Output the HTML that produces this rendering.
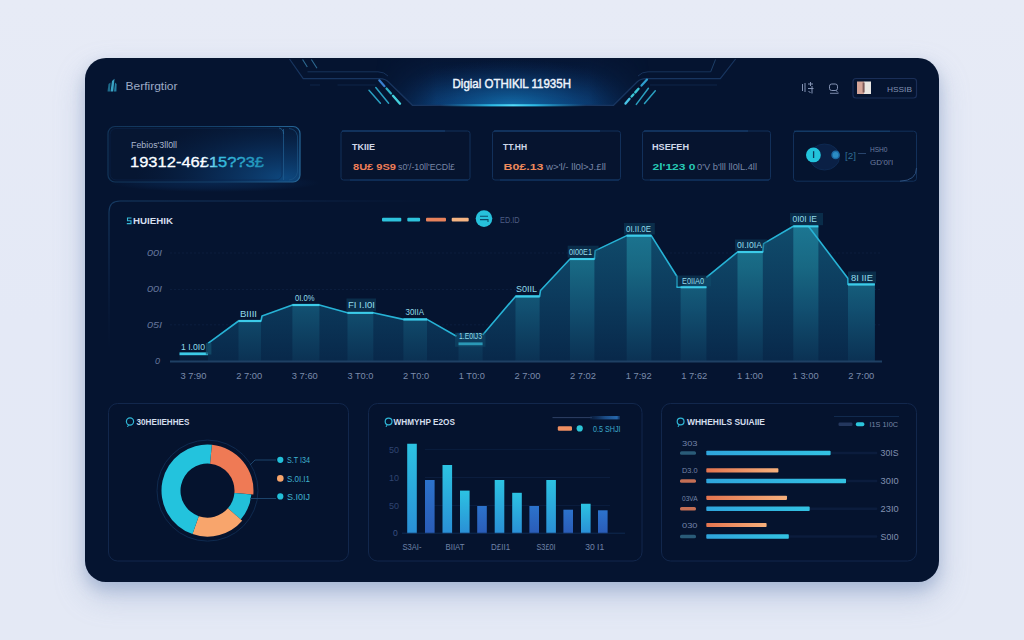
<!DOCTYPE html>
<html lang="en">
<head>
<meta charset="utf-8">
<title>Digital Dashboard</title>
<style>
  html, body { margin: 0; padding: 0; }
  body {
    width: 1024px; height: 640px; overflow: hidden; position: relative;
    font-family: "Liberation Sans", sans-serif;
    background: #e4e9f6;
  }
  #bg {
    position: absolute; left: 0; top: 0; width: 1024px; height: 640px;
    background: linear-gradient(180deg, #e7ebf6 0%, #e4e9f6 50%, #e4e9f5 100%);
  }
  #card {
    position: absolute; left: 85px; top: 58px; width: 854px; height: 524px;
    border-radius: 21px;
    background: #051430;
    box-shadow: 0 7px 14px rgba(130,152,190,0.4), 0 14px 30px rgba(130,152,195,0.4);
    overflow: hidden;
  }
  svg#art { position: absolute; left: 0; top: 0; }
  svg text { font-family: "Liberation Sans", sans-serif; }
</style>
</head>
<body>
<div id="bg"></div>
<div id="card"></div>
<svg id="art" width="1024" height="640" viewBox="0 0 1024 640">
<defs>
  <linearGradient id="hdrFill" x1="0" y1="58" x2="0" y2="106" gradientUnits="userSpaceOnUse">
    <stop offset="0" stop-color="#08224c" stop-opacity="0.15"/>
    <stop offset="1" stop-color="#0b3a72" stop-opacity="0.75"/>
  </linearGradient>
  <radialGradient id="hdrGlow" cx="512" cy="106" r="130" gradientUnits="userSpaceOnUse" gradientTransform="translate(0 106) scale(1 0.36) translate(0 -106)">
    <stop offset="0" stop-color="#1787c8" stop-opacity="0.7"/>
    <stop offset="0.45" stop-color="#1062a6" stop-opacity="0.42"/>
    <stop offset="1" stop-color="#0a2f66" stop-opacity="0"/>
  </radialGradient>
  <linearGradient id="hdrLine" x1="0" y1="0" x2="1" y2="0">
    <stop offset="0" stop-color="#1aa5e0" stop-opacity="0"/>
    <stop offset="0.35" stop-color="#2fc6f2" stop-opacity="0.9"/>
    <stop offset="0.5" stop-color="#52dcfa" stop-opacity="1"/>
    <stop offset="0.65" stop-color="#2fc6f2" stop-opacity="0.9"/>
    <stop offset="1" stop-color="#1aa5e0" stop-opacity="0"/>
  </linearGradient>
  <linearGradient id="hdrMaskG" x1="376" y1="0" x2="649" y2="0" gradientUnits="userSpaceOnUse">
    <stop offset="0" stop-color="#fff" stop-opacity="0"/>
    <stop offset="0.22" stop-color="#fff" stop-opacity="1"/>
    <stop offset="0.78" stop-color="#fff" stop-opacity="1"/>
    <stop offset="1" stop-color="#fff" stop-opacity="0"/>
  </linearGradient>
  <mask id="hdrMask" maskUnits="userSpaceOnUse" x="370" y="50" width="290" height="60"><rect x="370" y="50" width="290" height="60" fill="url(#hdrMaskG)"/></mask>

  <linearGradient id="c1fill" x1="0" y1="0" x2="1" y2="0">
    <stop offset="0" stop-color="#061530"/>
    <stop offset="0.4" stop-color="#071a3b"/>
    <stop offset="0.8" stop-color="#0a3562"/>
    <stop offset="1" stop-color="#0c3d6e"/>
  </linearGradient>
  <linearGradient id="c1stroke" x1="0" y1="0" x2="1" y2="0">
    <stop offset="0" stop-color="#123459"/>
    <stop offset="0.6" stop-color="#15426c"/>
    <stop offset="1" stop-color="#256596"/>
  </linearGradient>
  <linearGradient id="numGrad" x1="130" y1="0" x2="265" y2="0" gradientUnits="userSpaceOnUse">
    <stop offset="0" stop-color="#ffffff"/>
    <stop offset="0.55" stop-color="#ffffff"/>
    <stop offset="0.64" stop-color="#39c2e2"/>
    <stop offset="1" stop-color="#1f8fb5"/>
  </linearGradient>

  <linearGradient id="areaFill" x1="0" y1="226" x2="0" y2="362" gradientUnits="userSpaceOnUse">
    <stop offset="0" stop-color="#104c6c"/>
    <stop offset="0.5" stop-color="#0c3b5d"/>
    <stop offset="1" stop-color="#08284a"/>
  </linearGradient>
  <linearGradient id="barFill" x1="0" y1="226" x2="0" y2="362" gradientUnits="userSpaceOnUse">
    <stop offset="0" stop-color="#1c7692"/>
    <stop offset="0.3" stop-color="#186883"/>
    <stop offset="0.6" stop-color="#125172" stop-opacity="0.95"/>
    <stop offset="1" stop-color="#0b3254" stop-opacity="0.9"/>
  </linearGradient>

  <linearGradient id="vbC" x1="0" y1="0" x2="0" y2="1">
    <stop offset="0" stop-color="#2cc3e2"/>
    <stop offset="1" stop-color="#2a8fd6"/>
  </linearGradient>
  <linearGradient id="vbB" x1="0" y1="0" x2="0" y2="1">
    <stop offset="0" stop-color="#2c73cc"/>
    <stop offset="1" stop-color="#2a5cb8"/>
  </linearGradient>
  <linearGradient id="hbO" x1="0" y1="0" x2="1" y2="0">
    <stop offset="0" stop-color="#e4744f"/>
    <stop offset="1" stop-color="#f6b07c"/>
  </linearGradient>
  <linearGradient id="hbC" x1="0" y1="0" x2="1" y2="0">
    <stop offset="0" stop-color="#2fa5dd"/>
    <stop offset="1" stop-color="#33c2e2"/>
  </linearGradient>
  <linearGradient id="panelStrokeH" x1="120" y1="0" x2="440" y2="0" gradientUnits="userSpaceOnUse">
    <stop offset="0" stop-color="#163a62"/>
    <stop offset="0.5" stop-color="#10294f"/>
    <stop offset="1" stop-color="#0a1f42" stop-opacity="0"/>
  </linearGradient>
  <linearGradient id="panelStrokeV" x1="0" y1="212" x2="0" y2="350" gradientUnits="userSpaceOnUse">
    <stop offset="0" stop-color="#163a62"/>
    <stop offset="0.4" stop-color="#0f284d"/>
    <stop offset="1" stop-color="#0a1f42" stop-opacity="0"/>
  </linearGradient>
  <linearGradient id="legBar" x1="0" y1="0" x2="1" y2="0">
    <stop offset="0" stop-color="#14335f" stop-opacity="0.3"/>
    <stop offset="0.5" stop-color="#1b4c86"/>
    <stop offset="0.9" stop-color="#2768ac"/>
    <stop offset="1" stop-color="#1b4c86" stop-opacity="0.4"/>
  </linearGradient>
  <radialGradient id="c1glow" cx="285" cy="178" r="150" gradientUnits="userSpaceOnUse" gradientTransform="translate(285 178) scale(1 0.42) translate(-285 -178)">
    <stop offset="0" stop-color="#0e4a82" stop-opacity="0.95"/>
    <stop offset="0.45" stop-color="#0b386a" stop-opacity="0.6"/>
    <stop offset="1" stop-color="#08244c" stop-opacity="0"/>
  </radialGradient>
  <radialGradient id="c1under" cx="0.5" cy="0.5" r="0.5">
    <stop offset="0" stop-color="#0b3263" stop-opacity="0.55"/>
    <stop offset="0.6" stop-color="#0b3263" stop-opacity="0.3"/>
    <stop offset="1" stop-color="#0b3263" stop-opacity="0"/>
  </radialGradient>
</defs>

<!-- HEADER -->
<g id="header">
  <g mask="url(#hdrMask)">
  <path d="M376 58 L376 72 L412 105.5 L614 105.5 L649 72 L649 58 Z" fill="url(#hdrFill)"/>
  <path d="M376 58 L376 72 L412 105.5 L614 105.5 L649 72 L649 58 Z" fill="url(#hdrGlow)"/>
  </g>
  <path d="M289.5 59 L303.2 78.6 H380 Q385 78.6 388.5 82 L412.5 105.3 H613.5 L637 82 Q640.5 78.6 646 78.6 H720.3 L735.6 59" fill="none" stroke="#18355f" stroke-width="1.2"/>
  <path d="M307.5 71.8 H378 Q384 71.8 388 76" fill="none" stroke="#17325b" stroke-width="1"/>
  <path d="M710.7 71.8 H648 Q642 71.8 638 76" fill="none" stroke="#17325b" stroke-width="1"/>
  <path d="M710.7 71.8 L715.5 59.5" fill="none" stroke="#1d3f68" stroke-width="1"/>
  <path d="M337.5 85 H375.5 M310 85 H320" stroke="#0f2548" stroke-width="1"/>
  <path d="M650 85 H717" stroke="#0f2548" stroke-width="1"/>
  <path d="M302.6 59.5 L307.3 67 M311.4 59.5 L317 68.2" stroke="#2d6a92" stroke-width="1.1"/>
  <rect x="440" y="104.2" width="146" height="2.2" fill="url(#hdrLine)"/>
  <g stroke-linecap="round" fill="none">
    <path d="M369 90.3 L380.4 103.2" stroke="#2a9fc0" stroke-width="1.5"/>
    <path d="M375.8 87.6 L388.6 103.2" stroke="#2a9fc0" stroke-width="1.5"/>
    <path d="M379.3 80.3 L384.5 86.2" stroke="#3a7fd0" stroke-width="2.2"/>
    <path d="M386.5 88.5 L391 93.5" stroke="#2fb0c8" stroke-width="2.2"/>
    <path d="M393 95.8 L400 103.7" stroke="#45d1de" stroke-width="2.4"/>
    <path d="M655.3 90.7 L644.5 103.4" stroke="#2a9fc0" stroke-width="1.5"/>
    <path d="M648.4 88.3 L636.3 104.4" stroke="#2a9fc0" stroke-width="1.5"/>
    <path d="M647 79.6 L641.5 85.6" stroke="#2f9fcf" stroke-width="2.2"/>
    <path d="M638.5 88.8 L635.3 92.4" stroke="#3cc6d6" stroke-width="2.4"/>
    <path d="M633.4 94.5 L631.6 96.5" stroke="#3cc6d6" stroke-width="2.4"/>
    <path d="M629.5 98.8 L625.5 103.6" stroke="#49c4e6" stroke-width="2.4"/>
  </g>
  <text x="452.5" y="88" font-size="12.4" fill="#eef4fd" stroke="#eef4fd" stroke-width="0.45" textLength="118.5" lengthAdjust="spacingAndGlyphs">Digial OTHIKlL 11935H</text>
</g>

<!-- HEADER LEFT LOGO -->
<g id="logo">
  <path d="M107.5 91.5 L108.5 84 L110.5 82.5 L110 91.5 Z" fill="#1d6a8a"/>
  <path d="M110.5 91.5 L112 81 L114.5 78.8 L113.2 91.5 Z" fill="#3aa3c4"/>
  <path d="M114 91.5 L115 82.5 L116.6 84 L116.4 91.5 Z" fill="#247fa3"/>
  <text x="125.5" y="90" font-size="10.8" fill="#9dabc6" textLength="52" lengthAdjust="spacingAndGlyphs">Berfirgtior</text>
</g>

<!-- HEADER RIGHT -->
<g id="hdr-right">
  <g stroke="#8594b5" stroke-width="1" fill="none">
    <path d="M802.5 84 V91 M805 83 V92 M808 84 H813 M810.5 82 V86 M808 88.5 H813.5 M812 86 V93.5 M808.5 91 L810.5 93"/>
    <rect x="829.5" y="84" width="8" height="6.5" rx="2.2"/>
    <path d="M835.5 90 L838 92.5 M830 93.3 H838.5" stroke-width="0.9"/>
  </g>
  <rect x="853" y="78.5" width="63.5" height="19.5" rx="3" fill="none" stroke="#1a2e57" stroke-width="1.2"/>
  <rect x="857" y="81.5" width="7" height="12.5" fill="#d4a498"/>
  <rect x="864" y="81.5" width="7" height="12.5" fill="#e9e6e2"/>
  <rect x="862.6" y="82.5" width="2" height="10" fill="#7d5a58"/>
  <text x="887" y="91.5" font-size="8" fill="#8291b2" textLength="25" lengthAdjust="spacingAndGlyphs">HSSIB</text>
</g>

<!-- STAT CARDS -->
<g id="stats">
  <ellipse cx="215" cy="183" rx="105" ry="9" fill="url(#c1under)"/>
  <rect x="108" y="126.5" width="192" height="55.5" rx="7" fill="#061632"/>
  <rect x="108" y="126.5" width="192" height="55.5" rx="7" fill="url(#c1glow)"/>
  <rect x="108" y="126.5" width="192" height="55.5" rx="7" fill="none" stroke="url(#c1stroke)" stroke-width="1.2"/>
  <path d="M283.5 129 V180" stroke="#1f5a8c" stroke-width="1" opacity="0.8"/>
  <path d="M279 128 Q283.5 129 283.5 134" fill="none" stroke="#2a6a9a" stroke-width="0.9" opacity="0.8"/>
  <path d="M289 128.5 Q296 129 297.5 136 V172 Q296.5 179 289 180" fill="none" stroke="#1d5686" stroke-width="0.9" opacity="0.7"/>
  <rect x="110" y="128.5" width="172" height="51.5" rx="6" fill="none" stroke="#0d2950" stroke-width="0.8" opacity="0.6"/>
  <text x="131" y="148" font-size="8.5" fill="#aab6cf" textLength="46" lengthAdjust="spacingAndGlyphs">Febios'3ll0ll</text>
  <text x="130" y="167" font-size="15.5" fill="url(#numGrad)" stroke="url(#numGrad)" stroke-width="0.35" textLength="134" lengthAdjust="spacingAndGlyphs">19312-46&#xA3;15??3&#xA3;</text>

  <rect x="341" y="131" width="129" height="49" rx="2.5" fill="#06142f" stroke="#12305a" stroke-width="1"/>
  <text x="352" y="149.5" font-size="8.8" font-weight="bold" fill="#d0d9ea" textLength="23" lengthAdjust="spacingAndGlyphs">TKIIE</text>
  <text x="353" y="170" font-size="9.5" font-weight="bold" fill="#ee7e58" textLength="43" lengthAdjust="spacingAndGlyphs">8U&#xA3; 9S9</text>
  <text x="398" y="170" font-size="9" fill="#7786a6" textLength="57" lengthAdjust="spacingAndGlyphs">s0'/-10ll'ECDl&#xA3;</text>

  <rect x="492.5" y="131" width="128" height="49" rx="2.5" fill="#06142f" stroke="#12305a" stroke-width="1"/>
  <text x="503" y="149.5" font-size="8.8" font-weight="bold" fill="#d0d9ea" textLength="24" lengthAdjust="spacingAndGlyphs">TT.HH</text>
  <text x="503.5" y="170" font-size="9.5" font-weight="bold" fill="#ee8a5c" textLength="40" lengthAdjust="spacingAndGlyphs">B0&#xA3;.13</text>
  <text x="546" y="170" font-size="9" fill="#7786a6" textLength="60" lengthAdjust="spacingAndGlyphs">w&gt;'l/- ll0l&gt;J.&#xA3;ll</text>

  <rect x="642.5" y="131" width="128" height="49" rx="2.5" fill="#06142f" stroke="#12305a" stroke-width="1"/>
  <text x="652" y="149.5" font-size="8.8" font-weight="bold" fill="#d0d9ea" textLength="37" lengthAdjust="spacingAndGlyphs">HSEFEH</text>
  <text x="652.5" y="170" font-size="9.5" font-weight="bold" fill="#27c9b5" textLength="43" lengthAdjust="spacingAndGlyphs">2l'123 0</text>
  <text x="697" y="170" font-size="9" fill="#7786a6" textLength="60" lengthAdjust="spacingAndGlyphs">0'V b'lll ll0lL.4ll</text>

  <path d="M342 131 H445" stroke="#1a477a" stroke-width="1" opacity="0.9"/>
  <path d="M350 180 H468" stroke="#143c6e" stroke-width="1" opacity="0.8"/>
  <path d="M494 131 H600" stroke="#1a477a" stroke-width="1" opacity="0.9"/>
  <path d="M500 180 H619" stroke="#143c6e" stroke-width="1" opacity="0.8"/>
  <path d="M644 131 H748" stroke="#1a477a" stroke-width="1" opacity="0.9"/>
  <path d="M650 180 H769" stroke="#143c6e" stroke-width="1" opacity="0.8"/>
  <rect x="793.5" y="131.2" width="123" height="50" rx="3" fill="#05142f" stroke="#12305a" stroke-width="1"/>
  <path d="M794 131.2 H890" stroke="#1a4a7a" stroke-width="1" opacity="0.8"/>
  <path d="M900 181.2 Q916.5 180.5 916.5 168" fill="none" stroke="#2b4e7c" stroke-width="1"/>
  <ellipse cx="824.6" cy="157" rx="15" ry="13" fill="#0a2045" stroke="#0f2c55" stroke-width="0.8"/>
  <circle cx="813.4" cy="154.9" r="7.4" fill="#23c4dc"/>
  <path d="M813.6 151.2 V158" stroke="#0a3a5c" stroke-width="1.3"/>
  <circle cx="835.6" cy="154.9" r="3.6" fill="#2b8cc4" stroke="#1c69a4" stroke-width="1.4"/>
  <text x="845" y="158.6" font-size="9.5" fill="#2f6d92" textLength="11" lengthAdjust="spacingAndGlyphs">[2]</text>
  <path d="M858 153.5 H866" stroke="#2c4a74" stroke-width="0.9"/>
  <text x="870" y="152.3" font-size="8" fill="#6d7da0" textLength="17.5" lengthAdjust="spacingAndGlyphs">HSH0</text>
  <text x="870" y="164.6" font-size="8" fill="#6d7da0" textLength="23" lengthAdjust="spacingAndGlyphs">GD'0l'l</text>
</g>

<!-- MAIN CHART -->
<g id="mainchart">
<path d="M120 201 H520" fill="none" stroke="url(#panelStrokeH)" stroke-width="1.1"/>
<path d="M109 212 Q109 201 120 201" fill="none" stroke="#163a62" stroke-width="1.1"/>
<path d="M109 212 V350" fill="none" stroke="url(#panelStrokeV)" stroke-width="1.1"/>
<path d="M170 253 H880" stroke="#13284d" stroke-width="0.8" stroke-dasharray="2 2" opacity="0.6"/>
<path d="M170 289.5 H880" stroke="#13284d" stroke-width="0.8" stroke-dasharray="2 2" opacity="0.6"/>
<path d="M170 324.8 H880" stroke="#13284d" stroke-width="0.8" stroke-dasharray="2 2" opacity="0.6"/>
<path d="M208.0 361.5 L208.0 343.3 L238.5 321.0 L261.0 321.0 L262.0 316.0 L292.4 305.0 L319.4 305.0 L347.5 312.8 L373.3 312.8 L403.4 319.4 L427.0 319.4 L456.5 336.3 L456.5 333.0 L482.6 333.0 L482.6 335.0 L515.5 296.4 L539.6 296.4 L540.5 290.5 L570.0 259.0 L594.4 259.0 L595.2 250.6 L626.7 235.6 L651.3 235.6 L677.0 276.5 L677.0 287.2 L706.4 277.3 L737.5 252.0 L762.8 252.0 L763.6 243.6 L793.3 226.3 L808.4 226.3 L848.0 278.5 L848.0 284.4 L874.8 284.4 L874.8 361.5 Z" fill="url(#areaFill)"/>
<rect x="179.5" y="353.8" width="28.5" height="7.7" fill="url(#barFill)" opacity="0.35"/>
<rect x="238.5" y="321.0" width="22.5" height="40.5" fill="url(#barFill)"/>
<rect x="292.4" y="305.0" width="27.0" height="56.5" fill="url(#barFill)"/>
<rect x="347.5" y="312.8" width="25.8" height="48.7" fill="url(#barFill)"/>
<rect x="403.4" y="319.4" width="23.6" height="42.1" fill="url(#barFill)"/>
<rect x="458.5" y="343.8" width="24.1" height="17.7" fill="url(#barFill)"/>
<rect x="515.5" y="296.4" width="24.1" height="65.1" fill="url(#barFill)"/>
<rect x="570.0" y="259.0" width="24.4" height="102.5" fill="url(#barFill)"/>
<rect x="626.7" y="235.6" width="24.6" height="125.9" fill="url(#barFill)"/>
<rect x="680.6" y="287.2" width="25.8" height="74.3" fill="url(#barFill)"/>
<rect x="737.5" y="252.0" width="25.3" height="109.5" fill="url(#barFill)"/>
<rect x="793.3" y="226.3" width="25.1" height="135.2" fill="url(#barFill)"/>
<rect x="848.0" y="284.4" width="26.8" height="77.1" fill="url(#barFill)"/>
<path d="M170 361.5 H882" stroke="#1f4064" stroke-width="1.8"/>
<path d="M208.0 343.3 L238.5 321.0 L261.0 321.0 L262.0 316.0 L292.4 305.0 L319.4 305.0 L347.5 312.8 L373.3 312.8 L403.4 319.4 L427.0 319.4 L456.5 336.3" fill="none" stroke="#27b3d6" stroke-width="1.6" stroke-linejoin="round"/>
<path d="M482.6 335.0 L515.5 296.4 L539.6 296.4 L540.5 290.5 L570.0 259.0 L594.4 259.0 L595.2 250.6 L626.7 235.6 L651.3 235.6 L677.0 276.5 L677.0 287.2 L706.4 287.2" fill="none" stroke="#27b3d6" stroke-width="1.6" stroke-linejoin="round"/>
<path d="M706.4 277.3 L737.5 252.0 L762.8 252.0 L763.6 243.6 L793.3 226.3 L808.4 226.3 L848.0 278.5 L848.0 284.4 L874.8 284.4" fill="none" stroke="#27b3d6" stroke-width="1.6" stroke-linejoin="round"/>
<path d="M179.5 353.8 H208.0" stroke="#3ccbe8" stroke-width="2.8"/>
<path d="M238.5 321.0 H261.0" stroke="#3ccbe8" stroke-width="2.2"/>
<path d="M292.4 305.0 H319.4" stroke="#3ccbe8" stroke-width="2.2"/>
<path d="M347.5 312.8 H373.3" stroke="#3ccbe8" stroke-width="2.2"/>
<path d="M403.4 319.4 H427.0" stroke="#3ccbe8" stroke-width="2.2"/>
<path d="M458.5 343.8 H482.6" stroke="#3ccbe8" stroke-width="2.8"/>
<path d="M515.5 296.4 H539.6" stroke="#3ccbe8" stroke-width="2.2"/>
<path d="M570.0 259.0 H594.4" stroke="#3ccbe8" stroke-width="2.2"/>
<path d="M626.7 235.6 H651.3" stroke="#3ccbe8" stroke-width="2.2"/>
<path d="M680.6 287.2 H706.4" stroke="#3ccbe8" stroke-width="2.2"/>
<path d="M737.5 252.0 H762.8" stroke="#3ccbe8" stroke-width="2.2"/>
<path d="M793.3 226.3 H818.4" stroke="#3ccbe8" stroke-width="2.2"/>
<path d="M848.0 284.4 H874.8" stroke="#3ccbe8" stroke-width="2.2"/>
</g>
<!-- END MAIN CHART -->

<!-- MAIN LABELS -->
<g id="mainlabels">
<g fill="none" stroke="#35b9d8" stroke-width="1.1"><path d="M131.5 218 H127.5 V220.7 H131 V223.6 H126.8"/></g>
<text x="133" y="224" font-size="9" font-weight="bold" fill="#d5dfee" textLength="40" lengthAdjust="spacingAndGlyphs">HUIEHIK</text>
<rect x="382" y="217.8" width="19.3" height="3.8" rx="1" fill="#2ec3dc"/>
<rect x="407.3" y="217.8" width="12.8" height="3.8" rx="1" fill="#2ec3dc"/>
<rect x="426" y="217.8" width="20" height="3.8" rx="1" fill="#e8825c"/>
<rect x="451.7" y="217.8" width="17" height="3.8" rx="1" fill="#f5b483"/>
<circle cx="484" cy="218.6" r="8.3" fill="#27c1dc"/>
<path d="M480 216.2 H488 M480 219.6 H488 V222" fill="none" stroke="#0b4b69" stroke-width="1.1"/>
<text x="500" y="223" font-size="8.5" fill="#4d5d83" textLength="19.5" lengthAdjust="spacingAndGlyphs">ED.ID</text>
<text x="147" y="256" font-size="9" font-style="italic" fill="#64759b" textLength="15" lengthAdjust="spacingAndGlyphs">00I</text>
<text x="147" y="292" font-size="9" font-style="italic" fill="#64759b" textLength="15" lengthAdjust="spacingAndGlyphs">00I</text>
<text x="147" y="327.8" font-size="9" font-style="italic" fill="#64759b" textLength="15" lengthAdjust="spacingAndGlyphs">05I</text>
<text x="155" y="364" font-size="9" font-style="italic" fill="#64759b">0</text>
<text x="180.5" y="378.7" font-size="8.8" fill="#7b8bab" textLength="26" lengthAdjust="spacingAndGlyphs">3 7:90</text>
<text x="236.2" y="378.7" font-size="8.8" fill="#7b8bab" textLength="26" lengthAdjust="spacingAndGlyphs">2 7:00</text>
<text x="291.8" y="378.7" font-size="8.8" fill="#7b8bab" textLength="26" lengthAdjust="spacingAndGlyphs">3 7:60</text>
<text x="347.4" y="378.7" font-size="8.8" fill="#7b8bab" textLength="26" lengthAdjust="spacingAndGlyphs">3 T0:0</text>
<text x="403.1" y="378.7" font-size="8.8" fill="#7b8bab" textLength="26" lengthAdjust="spacingAndGlyphs">2 T0:0</text>
<text x="458.8" y="378.7" font-size="8.8" fill="#7b8bab" textLength="26" lengthAdjust="spacingAndGlyphs">1 T0:0</text>
<text x="514.4" y="378.7" font-size="8.8" fill="#7b8bab" textLength="26" lengthAdjust="spacingAndGlyphs">2 7:00</text>
<text x="570.0" y="378.7" font-size="8.8" fill="#7b8bab" textLength="26" lengthAdjust="spacingAndGlyphs">2 7:02</text>
<text x="625.7" y="378.7" font-size="8.8" fill="#7b8bab" textLength="26" lengthAdjust="spacingAndGlyphs">1 7:92</text>
<text x="681.3" y="378.7" font-size="8.8" fill="#7b8bab" textLength="26" lengthAdjust="spacingAndGlyphs">1 7:62</text>
<text x="737.0" y="378.7" font-size="8.8" fill="#7b8bab" textLength="26" lengthAdjust="spacingAndGlyphs">1 1:00</text>
<text x="792.6" y="378.7" font-size="8.8" fill="#7b8bab" textLength="26" lengthAdjust="spacingAndGlyphs">1 3:00</text>
<text x="848.3" y="378.7" font-size="8.8" fill="#7b8bab" textLength="26" lengthAdjust="spacingAndGlyphs">2 7:00</text>
<text x="181" y="349.7" font-size="8.3" fill="#93dcea" textLength="24.0" lengthAdjust="spacingAndGlyphs">1 I.0I0</text>
<text x="240" y="316.5" font-size="8.3" fill="#93dcea" textLength="17.0" lengthAdjust="spacingAndGlyphs">BIIII</text>
<text x="295" y="300.6" font-size="8.3" fill="#93dcea" textLength="19.5" lengthAdjust="spacingAndGlyphs">0I.0%</text>
<rect x="346.5" y="298.5" width="29.5" height="12.7" fill="#12506f" opacity="0.42"/>
<text x="348" y="308.0" font-size="8.3" fill="#93dcea" textLength="27.0" lengthAdjust="spacingAndGlyphs">FI I.I0I</text>
<text x="405.5" y="314.6" font-size="8.3" fill="#93dcea" textLength="18.5" lengthAdjust="spacingAndGlyphs">30IIA</text>
<rect x="455" y="332.7" width="30.5" height="14.1" fill="#12506f" opacity="0.42"/>
<text x="459" y="339.2" font-size="8.3" fill="#93dcea" textLength="23.0" lengthAdjust="spacingAndGlyphs">1.E0IJ3</text>
<text x="516" y="291.6" font-size="8.3" fill="#93dcea" textLength="21.0" lengthAdjust="spacingAndGlyphs">S0IIL</text>
<rect x="567.7" y="245.7" width="30.9" height="11.9" fill="#12506f" opacity="0.42"/>
<text x="569" y="254.8" font-size="8.3" fill="#93dcea" textLength="23.0" lengthAdjust="spacingAndGlyphs">0I00E1</text>
<rect x="624" y="223" width="30.8" height="11.5" fill="#12506f" opacity="0.42"/>
<text x="626" y="231.8" font-size="8.3" fill="#93dcea" textLength="25.0" lengthAdjust="spacingAndGlyphs">0I.II.0E</text>
<rect x="676" y="275.5" width="35.0" height="10.8" fill="#12506f" opacity="0.42"/>
<text x="682" y="284.0" font-size="8.3" fill="#93dcea" textLength="22.0" lengthAdjust="spacingAndGlyphs">E0IIA0</text>
<rect x="735" y="239.5" width="32.0" height="11.3" fill="#12506f" opacity="0.42"/>
<text x="737" y="248.2" font-size="8.3" fill="#93dcea" textLength="25.0" lengthAdjust="spacingAndGlyphs">0I.I0IA</text>
<rect x="790" y="213" width="33.0" height="12.2" fill="#12506f" opacity="0.42"/>
<text x="792.5" y="222.2" font-size="8.3" fill="#93dcea" textLength="24.5" lengthAdjust="spacingAndGlyphs">0I0I IE</text>
<rect x="848" y="271.5" width="28.0" height="11.7" fill="#12506f" opacity="0.42"/>
<text x="851" y="280.5" font-size="8.3" fill="#93dcea" textLength="22.0" lengthAdjust="spacingAndGlyphs">8I IIE</text>
<rect x="205.8" y="343" width="5.6" height="11.5" fill="#14506e" opacity="0.75"/>
</g>
<!-- END MAIN LABELS -->

<!-- BOTTOM -->
<g id="bottom">
<rect x="108.5" y="403.5" width="240" height="157.5" rx="9" fill="#05132e" stroke="#12274c" stroke-width="1"/>
<rect x="368.5" y="403.5" width="273.5" height="157.5" rx="9" fill="#05132e" stroke="#12274c" stroke-width="1"/>
<rect x="661.5" y="403.5" width="255" height="157.5" rx="9" fill="#05132e" stroke="#12274c" stroke-width="1"/>
<circle cx="207.5" cy="490.6" r="50.5" fill="none" stroke="#0f2a4f" stroke-width="1"/>
<path d="M211.83 444.80 A46 46 0 0 1 253.32 494.61 L234.40 492.95 A27 27 0 0 0 210.04 463.72 Z" fill="#ef7a55"/>
<path d="M251.33 494.43 A44 44 0 0 1 240.71 519.47 L227.88 508.31 A27 27 0 0 0 234.40 492.95 Z" fill="#22bfd9"/>
<path d="M242.22 520.78 A46 46 0 0 1 192.52 534.09 L198.71 516.13 A27 27 0 0 0 227.88 508.31 Z" fill="#f8a56c"/>
<path d="M192.52 534.09 A46 46 0 0 1 211.83 444.80 L210.04 463.72 A27 27 0 0 0 198.71 516.13 Z" fill="#23c3dd"/>
<circle cx="130" cy="421.5" r="3.6" fill="none" stroke="#2fb6d6" stroke-width="1.2"/><path d="M128.5 425 L127.5 427" stroke="#2fb6d6" stroke-width="1"/>
<text x="136.5" y="425" font-size="8.6" font-weight="bold" fill="#d3ddec" textLength="53" lengthAdjust="spacingAndGlyphs">30HEIIEHHES</text>
<path d="M250 465 L255 460 H276" fill="none" stroke="#1f4a73" stroke-width="0.9"/>
<path d="M250 498.5 H276" fill="none" stroke="#1f4a73" stroke-width="0.9"/>
<circle cx="280.3" cy="459.8" r="3.1" fill="#22bfd9"/>
<circle cx="280.3" cy="478.4" r="3.3" fill="#f8a56c"/>
<circle cx="280.3" cy="496.4" r="3.1" fill="#22bfd9"/>
<text x="287" y="463" font-size="8.6" fill="#3fb2cf" textLength="23" lengthAdjust="spacingAndGlyphs">S.T I34</text>
<text x="287" y="481.6" font-size="8.6" fill="#3fb2cf" textLength="23" lengthAdjust="spacingAndGlyphs">S.0I.I1</text>
<text x="287" y="499.6" font-size="8.6" fill="#3fb2cf" textLength="23" lengthAdjust="spacingAndGlyphs">S.I0IJ</text>
<circle cx="388.6" cy="421.5" r="3.4" fill="none" stroke="#2fb6d6" stroke-width="1.2"/><path d="M387 425 L386 427" stroke="#2fb6d6" stroke-width="1"/>
<text x="393.5" y="425" font-size="8.4" font-weight="bold" fill="#d3ddec" textLength="61.5" lengthAdjust="spacingAndGlyphs">WHMYHP E2OS</text>
<path d="M552.5 417.6 H592" stroke="#33456b" stroke-width="0.9"/>
<rect x="590" y="416" width="30" height="3.4" fill="url(#legBar)"/>
<rect x="557.8" y="426.2" width="14.2" height="4.6" rx="1.2" fill="#ee8f62"/>
<circle cx="579.7" cy="428.4" r="3.1" fill="#2cc6d8"/>
<text x="593" y="431.5" font-size="8.4" fill="#3aa6c6" textLength="27.5" lengthAdjust="spacingAndGlyphs">0.5 SHJI</text>
<path d="M425 449.4 H610" stroke="#0c2142" stroke-width="0.8"/>
<path d="M425 477.5 H610" stroke="#0c2142" stroke-width="0.8"/>
<path d="M425 505.6 H610" stroke="#0c2142" stroke-width="0.8"/>
<rect x="407.2" y="443.75" width="9.6" height="89.5" fill="url(#vbC)"/>
<rect x="425" y="480" width="9.6" height="53.2" fill="url(#vbB)"/>
<rect x="442.5" y="465" width="9.6" height="68.2" fill="url(#vbC)"/>
<rect x="460" y="490.6" width="9.6" height="42.6" fill="url(#vbC)"/>
<rect x="477.2" y="506" width="9.6" height="27.2" fill="url(#vbB)"/>
<rect x="494.7" y="480" width="9.6" height="53.2" fill="url(#vbC)"/>
<rect x="512.2" y="492.8" width="9.6" height="40.4" fill="url(#vbC)"/>
<rect x="529.4" y="506" width="9.6" height="27.2" fill="url(#vbB)"/>
<rect x="546.3" y="480" width="9.6" height="53.2" fill="url(#vbC)"/>
<rect x="563.4" y="509.7" width="9.6" height="23.5" fill="url(#vbB)"/>
<rect x="581" y="503.75" width="9.6" height="29.5" fill="url(#vbC)"/>
<rect x="598" y="510.3" width="9.6" height="22.9" fill="url(#vbB)"/>
<path d="M402 533.2 H625" stroke="#12305a" stroke-width="0.8"/>
<text x="389" y="452.5" font-size="8.6" fill="#2f4470" textLength="10" lengthAdjust="spacingAndGlyphs">50</text>
<text x="389" y="480.6" font-size="8.6" fill="#2f4470" textLength="10" lengthAdjust="spacingAndGlyphs">10</text>
<text x="389" y="508.7" font-size="8.6" fill="#2f4470" textLength="10" lengthAdjust="spacingAndGlyphs">50</text>
<text x="393" y="536" font-size="8.6" fill="#3a5080">0</text>
<text x="402.5" y="550" font-size="8.2" fill="#6f83a8" textLength="19" lengthAdjust="spacingAndGlyphs">S3AI-</text>
<text x="445.5" y="550" font-size="8.2" fill="#6f83a8" textLength="19" lengthAdjust="spacingAndGlyphs">BIIAT</text>
<text x="491.1" y="550" font-size="8.2" fill="#6f83a8" textLength="19" lengthAdjust="spacingAndGlyphs">D&#xA3;II1</text>
<text x="536.5" y="550" font-size="8.2" fill="#6f83a8" textLength="19" lengthAdjust="spacingAndGlyphs">S3&#xA3;0I</text>
<text x="585.2" y="550" font-size="8.2" fill="#6f83a8" textLength="19" lengthAdjust="spacingAndGlyphs">30 I1</text>
<circle cx="680.6" cy="421.5" r="3.4" fill="none" stroke="#2fb6d6" stroke-width="1.2"/><path d="M679 425 L678 427" stroke="#2fb6d6" stroke-width="1"/>
<text x="687" y="425" font-size="8.6" font-weight="bold" fill="#d3ddec" textLength="78" lengthAdjust="spacingAndGlyphs">WHHEHILS SUIAIIE</text>
<path d="M834 416.5 H899" stroke="#132c52" stroke-width="0.9"/>
<rect x="838.5" y="422.6" width="14" height="3.4" rx="1.2" fill="#24375e"/>
<rect x="855.8" y="422.2" width="8.6" height="4" rx="1.8" fill="#2cc6dc"/>
<text x="869.5" y="427" font-size="8" fill="#7786a6" textLength="28.5" lengthAdjust="spacingAndGlyphs">I1S 1I0C</text>
<text x="682" y="446" font-size="8" fill="#7484a8" textLength="15.5" lengthAdjust="spacingAndGlyphs">303</text>
<rect x="706.3" y="451.8" width="171" height="2.4" rx="1" fill="#0b1c3d"/>
<rect x="706.3" y="450.8" width="124.3" height="4.4" rx="0.8" fill="url(#hbC)"/>
<rect x="680" y="451.2" width="16" height="3.6" rx="1.6" fill="#2a5b78"/>
<text x="880.6" y="456" font-size="8.2" fill="#8291b1" textLength="18" lengthAdjust="spacingAndGlyphs">30IS</text>
<text x="682" y="473.4" font-size="8" fill="#7484a8" textLength="15.5" lengthAdjust="spacingAndGlyphs">D3.0</text>
<rect x="706.3" y="468.29999999999995" width="72.1" height="4.2" rx="0.8" fill="url(#hbO)"/>
<rect x="706.3" y="479.8" width="171" height="2.4" rx="1" fill="#0b1c3d"/>
<rect x="706.3" y="478.8" width="139.7" height="4.4" rx="0.8" fill="url(#hbC)"/>
<rect x="680" y="479.2" width="16" height="3.6" rx="1.6" fill="#c46f55"/>
<text x="880.6" y="484" font-size="8.2" fill="#8291b1" textLength="18" lengthAdjust="spacingAndGlyphs">30I0</text>
<text x="682" y="500.8" font-size="8" fill="#7484a8" textLength="15.5" lengthAdjust="spacingAndGlyphs">03VA</text>
<rect x="706.3" y="495.7" width="80.7" height="4.2" rx="0.8" fill="url(#hbO)"/>
<rect x="706.3" y="507.6" width="171" height="2.4" rx="1" fill="#0b1c3d"/>
<rect x="706.3" y="506.6" width="103.4" height="4.4" rx="0.8" fill="url(#hbC)"/>
<rect x="680" y="507.0" width="16" height="3.6" rx="1.6" fill="#c46f55"/>
<text x="880.6" y="511.8" font-size="8.2" fill="#8291b1" textLength="18" lengthAdjust="spacingAndGlyphs">23I0</text>
<text x="682" y="528" font-size="8" fill="#7484a8" textLength="15.5" lengthAdjust="spacingAndGlyphs">030</text>
<rect x="706.3" y="522.9" width="60.3" height="4.2" rx="0.8" fill="url(#hbO)"/>
<rect x="706.3" y="535.3" width="171" height="2.4" rx="1" fill="#0b1c3d"/>
<rect x="706.3" y="534.3" width="82.5" height="4.4" rx="0.8" fill="url(#hbC)"/>
<rect x="680" y="534.7" width="16" height="3.6" rx="1.6" fill="#2a5b78"/>
<text x="880.6" y="539.5" font-size="8.2" fill="#8291b1" textLength="18" lengthAdjust="spacingAndGlyphs">S0I0</text>
</g>
<!-- END BOTTOM -->
</svg>
</body>
</html>
